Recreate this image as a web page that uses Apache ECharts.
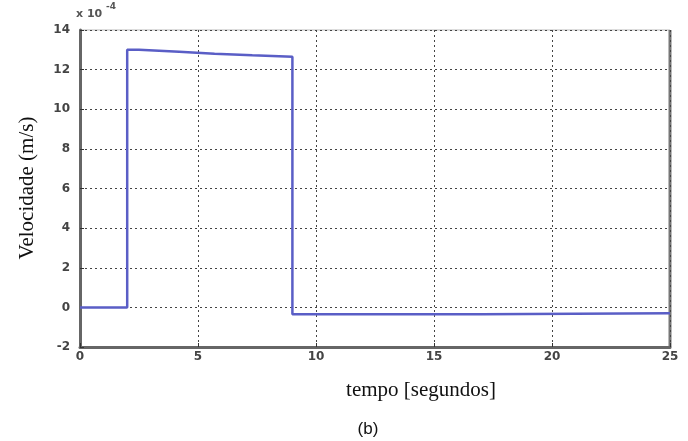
<!DOCTYPE html>
<html>
<head>
<meta charset="utf-8">
<script src="https://cdn.jsdelivr.net/npm/echarts@6/dist/echarts.min.js"></script>
<style>
  html, body { margin: 0; padding: 0; background: #fff; }
  #chart { width: 688px; height: 441px; }
</style>
</head>
<body>
<div id="chart"></div>
<script>
// velocity trace (x 10^-4 m/s) against time in seconds
const tempo = [0, 2, 2, 2.5, 2.5, 4.2, 4.2, 5.7, 5.7, 7.3, 7.3, 9, 9, 17, 17, 25]
const velocidade = [0, 0, 13, 13, 12.9, 12.9, 12.8, 12.8, 12.72, 12.72, 12.65, 12.65, -0.35, -0.35, -0.3, -0.3]
const xTicks = [0, 5, 10, 15, 20, 25]
const yTicks = [-2, 0, 2, 4, 6, 8, 10, 12, 14]

const chart = echarts.init(document.getElementById('chart'), null, { renderer: 'canvas' })

const tickFont = { color: '#444', fontSize: 12, fontWeight: 'bold', fontFamily: 'DejaVu Sans' }
const gridLine = { show: true, lineStyle: { color: '#444', type: [2, 3], width: 1 } }

let option = {
  animation: false,
  grid: { left: 80, right: 18, top: 30, bottom: 94, show: true, borderColor: '#bbb', borderWidth: 1 },
  xAxis: {
    type: 'value',
    min: 0, max: 25, interval: 5,
    axisLine: { show: true, onZero: false, lineStyle: { color: '#666', width: 3 } },
    axisTick: { show: true, inside: true, length: 4, lineStyle: { color: '#333' } },
    axisLabel: Object.assign({ margin: 4 }, tickFont),
    splitLine: gridLine
  },
  yAxis: {
    type: 'value',
    min: -2, max: 14, interval: 2,
    axisLine: { show: true, onZero: false, lineStyle: { color: '#666', width: 3 } },
    axisTick: { show: true, inside: true, length: 4, lineStyle: { color: '#333' } },
    axisLabel: Object.assign({ margin: 10 }, tickFont),
    splitLine: gridLine
  },
  graphic: [
    {
      type: 'line', shape: { x1: 670, y1: 30, x2: 670, y2: 347 },
      style: { stroke: '#777', lineWidth: 3 }
    },
    {
      type: 'text', left: 76, top: 9,
      style: { text: 'x 10', fill: '#555', font: 'bold 11px "DejaVu Sans"' }
    },
    {
      type: 'text', left: 106, top: 2,
      style: { text: '-4', fill: '#555', font: 'bold 9px "DejaVu Sans"' }
    },
    {
      type: 'text', rotation: Math.PI / 2, x: 27, y: 188,
      style: { text: 'Velocidade (m/s)', fill: '#111', font: '21px "Liberation Serif"', textAlign: 'center', textVerticalAlign: 'middle' }
    },
    {
      type: 'text', x: 421, y: 390,
      style: { text: 'tempo [segundos]', fill: '#111', font: '21px "Liberation Serif"', textAlign: 'center', textVerticalAlign: 'middle' }
    },
    {
      type: 'text', x: 368, y: 429,
      style: { text: '(b)', fill: '#111', font: '17px "Liberation Sans Narrow", "Liberation Sans"', textAlign: 'center', textVerticalAlign: 'middle' }
    }
  ],
  series: [{
    type: 'line',
    data: tempo.map((t, i) => [t, velocidade[i]]),
    showSymbol: false,
    lineStyle: { color: '#5a5ec6', width: 2.5 }
  }]
}
chart.setOption(option)
</script>
</body>
</html>
